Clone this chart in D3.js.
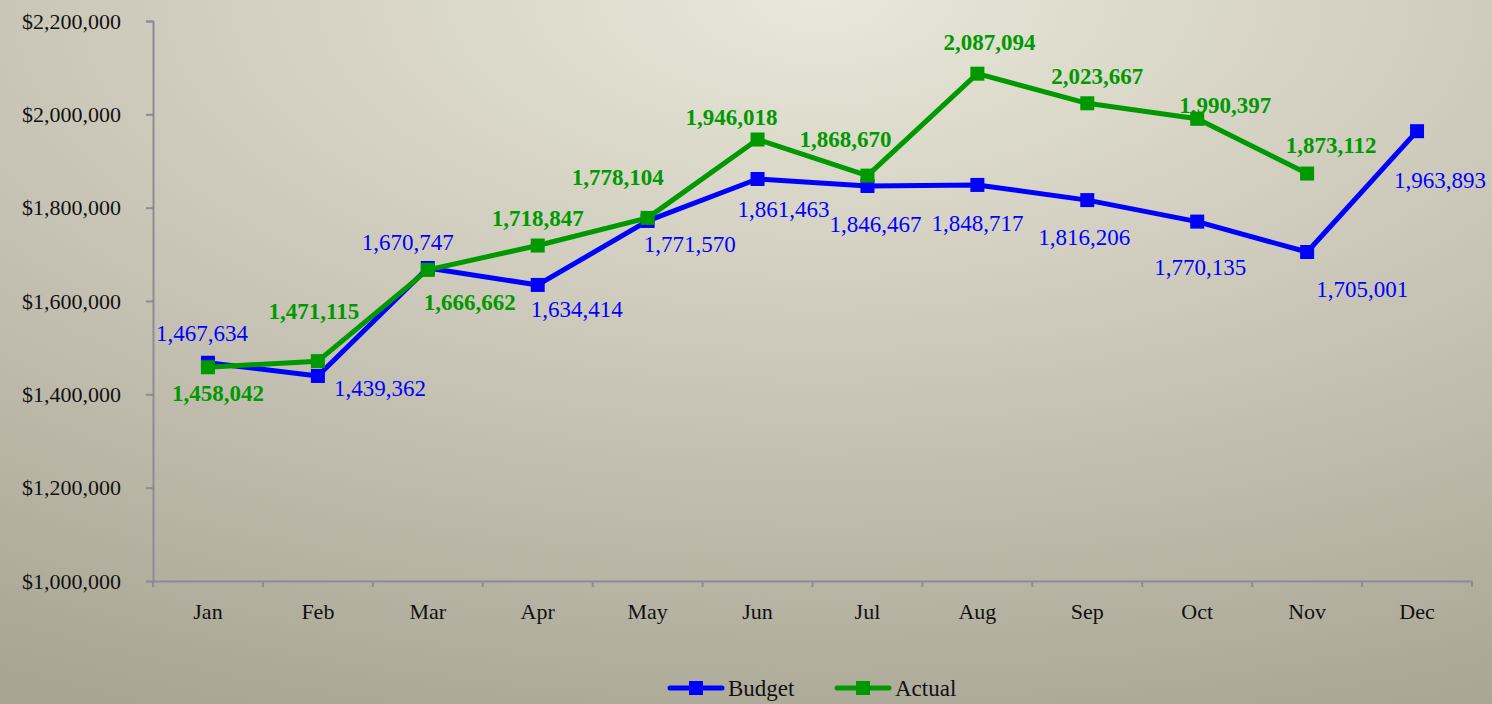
<!DOCTYPE html>
<html>
<head>
<meta charset="utf-8">
<script src="https://cdn.jsdelivr.net/npm/d3@7"></script>
<style>
  body { margin: 0; overflow: hidden; }
  svg { display: block; font-family: "Liberation Serif", "DejaVu Serif", serif; }
</style>
</head>
<body>
<div id="chart"></div>
<script>
// Chart data
const months = ['Jan', 'Feb', 'Mar', 'Apr', 'May', 'Jun', 'Jul', 'Aug', 'Sep', 'Oct', 'Nov', 'Dec'];
const budget = [1467634, 1439362, 1670747, 1634414, 1771570, 1861463, 1846467, 1848717, 1816206, 1770135, 1705001, 1963893];
const actual = [1458042, 1471115, 1666662, 1718847, 1778104, 1946018, 1868670, 2087094, 2023667, 1990397, 1873112];
const yTicks = [1000000, 1200000, 1400000, 1600000, 1800000, 2000000, 2200000];

// label placement (offsets from the point, in px)
const budgetLabelOffset = [[-6, -22], [62, 20], [-20, -18], [39, 32], [42, 31], [26, 38], [8, 46], [0, 46], [-3, 45], [3, 53], [55, 45], [23, 57]];
const actualLabelOffset = [[10, 34], [-4, -42], [42, 40], [0, -20], [-30, -33], [-26, -15], [-22, -29], [12, -24], [10, -19], [28, -6], [24, -21]];

const W = 1492, H = 704;
const margin = { top: 21, right: 20, bottom: 123, left: 153 };

const svg = d3.select('#chart').append('svg')
    .attr('width', W)
    .attr('height', H);

// background
const defs = svg.append('defs');
const grad = defs.append('radialGradient')
    .attr('id', 'bg')
    .attr('cx', '0.55').attr('cy', '0')
    .attr('r', '1.1');
grad.append('stop').attr('offset', '0%').attr('stop-color', '#e9e7d9');
grad.append('stop').attr('offset', '100%').attr('stop-color', '#a9a595');
svg.append('rect').attr('width', W).attr('height', H).attr('fill', 'url(#bg)');

const x = d3.scaleBand()
    .domain(months)
    .range([margin.left, W - margin.right]);

const y = d3.scaleLinear()
    .domain([1000000, 2200000])
    .range([H - margin.bottom, margin.top]);

const axisColor = '#8c8c94';

// y axis
const yAxis = svg.append('g')
    .attr('transform', `translate(${margin.left},0)`)
    .call(d3.axisLeft(y).tickValues(yTicks).tickSize(7).tickPadding(25)
        .tickFormat(d => '$' + d3.format(',')(d)));
yAxis.selectAll('text').attr('font-size', 22).attr('fill', '#111').attr('font-family', 'Liberation Serif');
yAxis.selectAll('line, path').attr('stroke', axisColor).attr('stroke-width', 2);

// x axis
const xAxis = svg.append('g')
    .attr('transform', `translate(0,${H - margin.bottom})`)
    .call(d3.axisBottom(x).tickSize(0).tickPadding(22));
xAxis.select('.domain').attr('stroke', axisColor).attr('stroke-width', 2);
xAxis.selectAll('text').attr('font-size', 22).attr('fill', '#111').attr('font-family', 'Liberation Serif');
// tick marks on band boundaries
xAxis.selectAll('.bound')
    .data(d3.range(months.length + 1))
    .join('line')
    .attr('x1', i => margin.left + i * x.step())
    .attr('x2', i => margin.left + i * x.step())
    .attr('y1', 0)
    .attr('y2', 6)
    .attr('stroke', axisColor)
    .attr('stroke-width', 2);

const cx = i => x(months[i]) + x.bandwidth() / 2;

function drawSeries(values, color, labelOffsets, bold) {
    const line = d3.line()
        .x((d, i) => cx(i))
        .y(d => y(d));
    svg.append('path')
        .datum(values)
        .attr('d', line)
        .attr('fill', 'none')
        .attr('stroke', color)
        .attr('stroke-width', 5)
        .attr('stroke-linejoin', 'round');
    svg.append('g').selectAll('rect')
        .data(values)
        .join('rect')
        .attr('x', (d, i) => cx(i) - 7)
        .attr('y', d => y(d) - 7)
        .attr('width', 14)
        .attr('height', 14)
        .attr('fill', color);
    svg.append('g').selectAll('text')
        .data(values)
        .join('text')
        .attr('x', (d, i) => cx(i) + labelOffsets[i][0])
        .attr('y', (d, i) => y(d) + labelOffsets[i][1])
        .attr('text-anchor', 'middle')
        .attr('font-size', 23)
        .attr('font-weight', bold ? 'bold' : 'normal')
        .attr('fill', color)
        .text(d => d3.format(',')(d));
}

drawSeries(budget, '#0000ff', budgetLabelOffset, false);
drawSeries(actual, '#009900', actualLabelOffset, true);

// legend
const legendItems = [
    { name: 'Budget', color: '#0000ff', x: 668 },
    { name: 'Actual', color: '#009900', x: 835 }
];
const lg = svg.append('g').selectAll('g')
    .data(legendItems)
    .join('g')
    .attr('transform', d => `translate(${d.x},688)`);
lg.append('line')
    .attr('x1', 2).attr('x2', 54)
    .attr('stroke', d => d.color)
    .attr('stroke-width', 5)
    .attr('stroke-linecap', 'round');
lg.append('rect')
    .attr('x', 21).attr('y', -7)
    .attr('width', 14).attr('height', 14)
    .attr('fill', d => d.color);
lg.append('text')
    .attr('x', 60)
    .attr('y', 8)
    .attr('font-size', 23)
    .attr('fill', '#111')
    .text(d => d.name);
</script>
</body>
</html>
